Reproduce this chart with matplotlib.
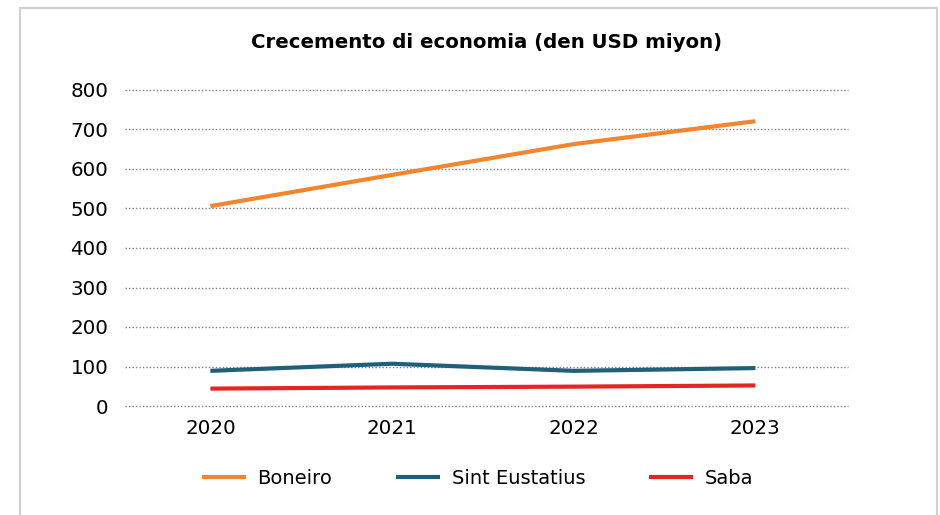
import matplotlib.pyplot as plt
from matplotlib.patches import Rectangle

plt.rcParams['font.family'] = ['DejaVu Sans']

# data
years = ['2020', '2021', '2022', '2023']
boneiro = [506, 585, 663, 721]
sint_eustatius = [89, 107, 89, 96]
saba = [44, 47, 49, 52]
yticks = [0, 100, 200, 300, 400, 500, 600, 700, 800]

fig = plt.figure(figsize=(9.4, 5.15), dpi=100)
fig.patch.set_facecolor('white')

# light frame around the chart
fig.patches.append(Rectangle((20/940, -0.05), 917/940, 1.05 - 8/515,
                             transform=fig.transFigure, fill=False,
                             edgecolor='#d0d0d0', linewidth=1.5))

ax = fig.add_axes([125/940, 1 - 406/515, (848 - 125)/940, (406 - 90)/515])

x = range(len(years))
ax.plot(x, boneiro, color='#f28530', lw=3.0, solid_capstyle='butt', label='Boneiro')
ax.plot(x, sint_eustatius, color='#1f5f78', lw=3.0, solid_capstyle='butt', label='Sint Eustatius')
ax.plot(x, saba, color='#e42525', lw=3.0, solid_capstyle='butt', label='Saba')

ax.set_xlim(-0.47, 3.51)
ax.set_ylim(0, 800)
ax.set_xticks(list(x))
ax.set_xticklabels(years)
ax.set_yticks(yticks)

ax.tick_params(axis='both', length=0, labelsize=14.3, colors='black')
ax.tick_params(axis='x', pad=9)
ax.tick_params(axis='y', pad=12)

ax.yaxis.grid(True, linestyle=(0, (1, 1.5)), color='#808080', linewidth=1)
ax.set_axisbelow(True)
for gl in ax.get_ygridlines():
    gl.set_clip_on(False)
for s in ax.spines.values():
    s.set_visible(False)

fig.text(0.518, 1 - 42/515, 'Crecemento di economia (den USD miyon)',
         ha='center', va='center', fontsize=14.2, fontweight='bold')

fig.legend(loc='center', bbox_to_anchor=(0.508, 1 - 478/515), ncol=3,
           frameon=False, fontsize=14, handlelength=2.27, handletextpad=0.57,
           columnspacing=3.3)

fig.savefig('out.png', dpi=100)
